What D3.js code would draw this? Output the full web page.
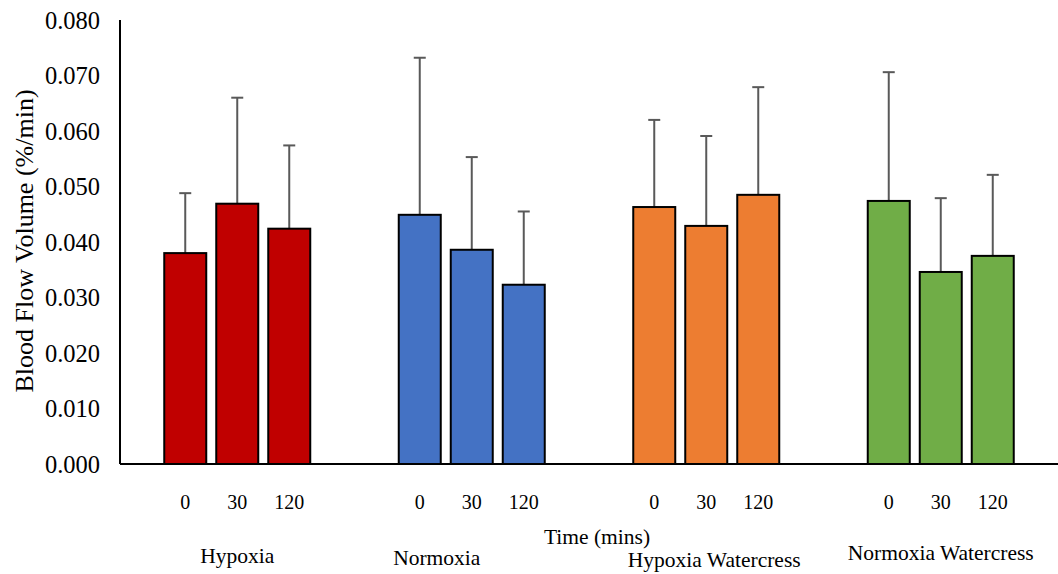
<!DOCTYPE html>
<html><head><meta charset="utf-8">
<script src="https://cdn.jsdelivr.net/npm/d3@7"></script>
<style>body{margin:0;background:#fff}svg{display:block}text{font-family:"Liberation Serif","Times New Roman",serif;fill:#000}</style>
</head><body><svg id="c" width="1058" height="574"></svg>
<script>
const groups = ["Hypoxia","Normoxia","Hypoxia Watercress","Normoxia Watercress"];
const times = ["0","30","120"];
const hypoxia = [0.0380,0.0469,0.0424];
const normoxia = [0.0449,0.0386,0.0323];
const hypoxiaWatercress = [0.0463,0.0429,0.0485];
const normoxiaWatercress = [0.0474,0.0346,0.0375];
const hypoxiaErr = [0.0108,0.0191,0.0150];
const normoxiaErr = [0.0283,0.0167,0.0132];
const hypoxiaWatercressErr = [0.0157,0.0162,0.0194];
const normoxiaWatercressErr = [0.0232,0.0133,0.0146];
const yTicks = [0,0.01,0.02,0.03,0.04,0.05,0.06,0.07,0.08];
const colors = ["#C00000","#4472C4","#ED7D31","#70AD47"];

const values=[hypoxia,normoxia,hypoxiaWatercress,normoxiaWatercress];
const errs=[hypoxiaErr,normoxiaErr,hypoxiaWatercressErr,normoxiaWatercressErr];
const labelNudge=[[0,555],[-35,557],[8,559],[0,552]];

const svg=d3.select("#c");
const L=120,R=1058,T=20,B=464;
const y=d3.scaleLinear().domain([0,0.08]).range([B,T]);
const x0=d3.scaleBand().domain(groups).range([L,R]);
const x1=d3.scaleBand().domain(times).range([0,156]).paddingInner(10/52).paddingOuter(5/52);

svg.append("g").selectAll("text").data(yTicks).join("text")
 .attr("x",100).attr("y",d=>y(d)).attr("dy","0.35em").attr("text-anchor","end")
 .style("font-size","24.5px").text(d=>d.toFixed(3));

groups.forEach((g,gi)=>{
  const cx=x0(g)+x0.bandwidth()/2, off=cx-78;
  const gg=svg.append("g");
  times.forEach((t,i)=>{
    const v=values[gi][i], e=errs[gi][i];
    const bx=off+x1(t), bw=x1.bandwidth(), mx=bx+bw/2;
    gg.append("line").attr("x1",mx).attr("x2",mx).attr("y1",y(v)).attr("y2",y(v+e)).attr("stroke","#595959").attr("stroke-width",2);
    gg.append("line").attr("x1",mx-6).attr("x2",mx+6).attr("y1",y(v+e)).attr("y2",y(v+e)).attr("stroke","#595959").attr("stroke-width",2);
    gg.append("rect").attr("x",bx).attr("y",y(v)).attr("width",bw).attr("height",y(0)-y(v))
      .attr("fill",colors[gi]).attr("stroke","#000").attr("stroke-width",2);
    gg.append("text").attr("x",mx).attr("y",502).attr("dy","0.35em").attr("text-anchor","middle")
      .style("font-size","20px").text(t);
  });
  svg.append("text").attr("x",cx+labelNudge[gi][0]).attr("y",labelNudge[gi][1]).attr("dy","0.35em")
    .attr("text-anchor","middle").style("font-size","21.5px").text(g);
});

svg.append("line").attr("x1",L).attr("x2",L).attr("y1",T).attr("y2",B).attr("stroke","#000").attr("stroke-width",2);
svg.append("line").attr("x1",L).attr("x2",R).attr("y1",B).attr("y2",B).attr("stroke","#000").attr("stroke-width",2);

svg.append("text").attr("x",597).attr("y",536).attr("dy","0.35em").attr("text-anchor","middle").style("font-size","21.5px").text("Time (mins)");
svg.append("text").attr("transform","translate(24,241) rotate(-90)").attr("dy","0.35em").attr("text-anchor","middle").style("font-size","26px").text("Blood Flow Volume (%/min)");
</script></body></html>
